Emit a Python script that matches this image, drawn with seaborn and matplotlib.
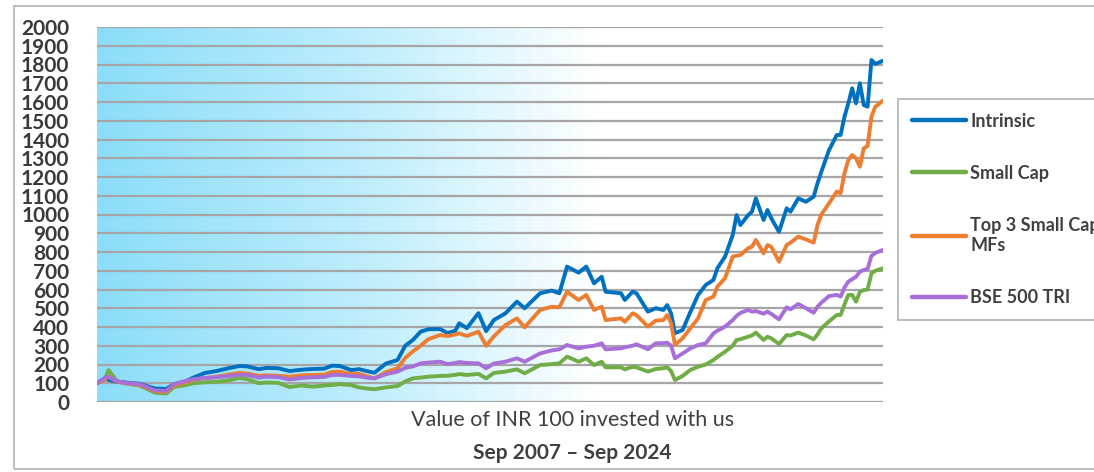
import numpy as np
import pandas as pd
import matplotlib
matplotlib.use("Agg")
import matplotlib.pyplot as plt
from matplotlib.colors import LinearSegmentedColormap
from matplotlib.patches import Rectangle
import seaborn as sns

# Months since Sep 2007 (0 = Sep 2007, 204 = Sep 2024)
months = [0, 2, 3, 5, 7, 9, 11, 13, 15, 18, 20, 23, 25, 28, 31, 34, 37, 39, 42, 44,
          47, 50, 53, 56, 59, 61, 63, 66, 68, 70, 72, 75, 78, 80, 82, 84, 86, 89, 91, 93,
          94, 96, 99, 101, 103, 106, 109, 111, 115, 118, 120, 122, 125, 127, 129, 131, 132, 136, 137, 139,
          140, 143, 145, 147, 148, 149, 150, 152, 154, 156, 158, 160, 161, 163, 165, 166, 167, 169, 170, 171,
          173, 174, 175, 177, 179, 180, 182, 184, 186, 187, 188, 190, 192, 193, 194, 195, 196, 197, 198, 199,
          200, 201, 202, 204]

intrinsic = [100, 125, 118, 108, 105, 100, 98, 85, 72, 70, 95, 110, 130, 155, 165, 180, 192, 190, 175, 182,
             180, 165, 172, 176, 178, 194, 192, 170, 175, 165, 156, 205, 224, 300, 331, 375, 388, 389, 368, 380,
             420, 394, 474, 378, 437, 473, 535, 500, 580, 594, 580, 722, 690, 722, 633, 668, 588, 580, 544, 588,
             580, 482, 500, 491, 517, 473, 367, 384, 480, 571, 624, 651, 713, 775, 891, 997, 944, 997, 1015, 1086,
             971, 1024, 980, 908, 1033, 1015, 1086, 1068, 1095, 1166, 1228, 1344, 1424, 1424, 1522, 1593, 1673, 1593, 1700, 1584,
             1575, 1824, 1803, 1820]

small_cap = [100, 120, 170, 115, 100, 95, 88, 70, 50, 45, 80, 90, 100, 105, 108, 115, 128, 122, 100, 104,
             102, 80, 88, 82, 88, 91, 95, 90, 78, 72, 68, 78, 85, 110, 126, 130, 135, 139, 140, 145,
             149, 144, 150, 126, 155, 162, 174, 153, 197, 202, 206, 242, 215, 233, 197, 215, 185, 185, 174, 188,
             185, 162, 176, 180, 185, 165, 117, 139, 171, 188, 200, 224, 240, 268, 300, 331, 335, 348, 355, 370,
             331, 348, 340, 309, 357, 355, 370, 355, 334, 360, 393, 430, 464, 464, 520, 571, 571, 535, 588, 597,
             600, 686, 700, 713]

top3_mfs = [100, 120, 135, 110, 102, 95, 92, 75, 58, 55, 88, 105, 118, 128, 135, 145, 155, 152, 140, 142,
            140, 135, 142, 144, 146, 160, 162, 149, 150, 138, 126, 160, 180, 235, 270, 300, 335, 357, 352, 360,
            366, 352, 375, 300, 350, 410, 446, 398, 491, 508, 505, 588, 544, 571, 491, 508, 437, 446, 428, 473,
            464, 402, 434, 437, 464, 420, 304, 340, 393, 446, 544, 562, 615, 660, 775, 780, 784, 820, 828, 864,
            793, 837, 828, 748, 837, 850, 882, 867, 850, 944, 1000, 1060, 1122, 1113, 1220, 1290, 1317, 1300, 1255, 1353,
            1365, 1522, 1575, 1607]

bse500_tri = [100, 128, 135, 112, 103, 98, 95, 80, 62, 60, 95, 112, 122, 128, 132, 138, 145, 144, 130, 135,
              133, 120, 128, 132, 134, 144, 145, 139, 137, 130, 126, 148, 162, 182, 190, 206, 210, 215, 202, 208,
              213, 208, 206, 180, 205, 215, 233, 215, 259, 275, 281, 304, 286, 295, 300, 313, 281, 286, 292, 300,
              308, 281, 313, 314, 316, 300, 233, 259, 286, 304, 313, 366, 380, 402, 437, 460, 475, 491, 482, 485,
              471, 482, 470, 441, 505, 494, 523, 500, 476, 508, 530, 565, 571, 562, 610, 642, 655, 668, 695, 704,
              710, 779, 795, 811]

series_names = ["Intrinsic", "Small Cap", "Top 3 Small Cap\nMFs", "BSE 500 TRI"]
series_colors = ["#0070C0", "#70AD47", "#ED7D31", "#A86FD8"]

df = pd.DataFrame({
    "month": months,
    series_names[0]: intrinsic,
    series_names[1]: small_cap,
    series_names[2]: top3_mfs,
    series_names[3]: bse500_tri,
}).melt(id_vars="month", var_name="series", value_name="value")

sns.set_theme(style="white")
plt.rcParams['font.family'] = ['Lato', 'DejaVu Sans']
text_col = "#404040"

fig = plt.figure(figsize=(10.94, 4.72), dpi=100)
ax = fig.add_axes([97 / 1094, 1 - 402 / 472, 786 / 1094, 375 / 472])

# background gradient: light blue on the left fading to white
grad_cmap = LinearSegmentedColormap.from_list(
    "bg", [(0, "#8CDDF9"), (0.33, "#BDEDFC"), (0.64, "#FFFFFF"), (1, "#FFFFFF")])
ax.imshow(np.linspace(0, 1, 512).reshape(1, -1), cmap=grad_cmap, aspect="auto",
          extent=[0, 1, 0, 1], transform=ax.transAxes, zorder=0)

sns.lineplot(data=df, x="month", y="value", hue="series", hue_order=series_names,
             palette=series_colors, linewidth=2.8, ax=ax, legend=False, zorder=3)

ax.set_xlim(0, 204)
ax.set_ylim(0, 2000)
ax.set_yticks(range(0, 2001, 100))
ax.set_xticks([])
ax.set_xlabel("")
ax.set_ylabel("")
ax.set_axisbelow(True)
ax.yaxis.grid(True, color="#A6A6A6", linewidth=1.6)
for sp in ax.spines.values():
    sp.set_visible(False)
ax.tick_params(axis="y", length=0, pad=20, labelsize=15, labelcolor="#3A3A3A")
for lab in ax.get_yticklabels():
    lab.set_fontweight("bold")

# legend
handles = [plt.Line2D([], [], color=c, linewidth=3.2) for c in series_colors]
leg = fig.legend(handles, series_names, loc="upper left",
                 bbox_to_anchor=(889 / 1094, 1 - 90 / 472), frameon=True, fancybox=False,
                 prop={"weight": "bold", "size": 13}, labelcolor=text_col,
                 handlelength=3.0, handletextpad=0.25, labelspacing=1.95, borderpad=0.75)
leg.get_frame().set_edgecolor("#A6A6A6")
leg.get_frame().set_linewidth(1.3)

fig.text(573 / 1094, 1 - 420 / 472, "Value of INR 100 invested with us", ha="center", va="center",
         fontsize=15.5, color=text_col)
fig.text(572 / 1094, 1 - 453 / 472, "Sep 2007 \u2013 Sep 2024", ha="center", va="center",
         fontsize=15, fontweight="bold", color=text_col)

# outer chart border
fig.patches.append(Rectangle((14 / 1094, 3 / 472), 1.2, 463 / 472, transform=fig.transFigure,
                             fill=False, edgecolor="#BFBFBF", linewidth=1.5))

fig.savefig("out.png", dpi=100)
